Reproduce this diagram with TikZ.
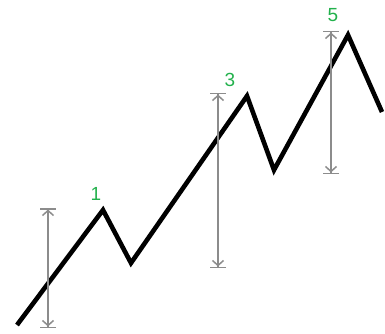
\documentclass[tikz,border=0pt]{standalone}
\usepackage{fontspec}
\setmainfont{Liberation Sans}
\usetikzlibrary{arrows.meta}
\definecolor{wgreen}{HTML}{22B14C}
\definecolor{wgrey}{HTML}{8C8C8C}
\tikzset{
  wave/.style={draw=black, line width=4.6pt, line join=miter, line cap=butt},
  wspan/.style={draw=wgrey, line width=1.5pt,
    {Bar[width=16pt,sep=0pt]Straight Barb[length=5pt,width=11pt]}-{Straight Barb[length=5pt,width=11pt,sep=0pt]Bar[width=16pt]}},
  wlabel/.style={text=wgreen, font=\fontsize{19}{19}\selectfont, inner sep=0pt},
}
\begin{document}
\begin{tikzpicture}[x=1pt,y=-1pt]
\useasboundingbox (0,0) rectangle (385,334);

% the wave
\coordinate (w0) at (17,325);
\coordinate (w1) at (103,210);
\coordinate (w2) at (131,263);
\coordinate (w3) at (247,96);
\coordinate (w4) at (274,170);
\coordinate (w5) at (348,35);
\coordinate (w6) at (382,112);
\draw[wave] (w0) -- (w1) -- (w2) -- (w3) -- (w4) -- (w5) -- (w6);

% spans
\coordinate (s1a) at (48,208);  \coordinate (s1b) at (48,328);
\coordinate (s3a) at (218,93);  \coordinate (s3b) at (218,268);
\coordinate (s5a) at (331,31);  \coordinate (s5b) at (331,174);
\foreach \a/\b in {s1a/s1b, s3a/s3b, s5a/s5b}
  \draw[wspan] (\a) -- (\b);

% labels
\node[wlabel] (l1) at (96,194) {1};
\node[wlabel] (l3) at (230,80) {3};
\node[wlabel] (l5) at (333,15) {5};

\end{tikzpicture}
\end{document}
